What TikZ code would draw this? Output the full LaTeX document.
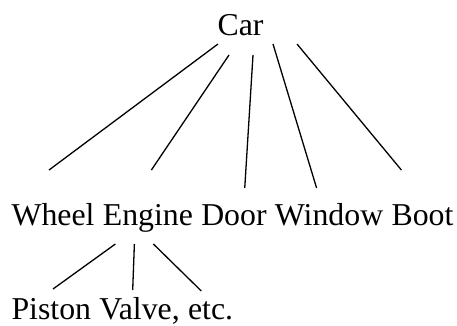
\documentclass[tikz,border=0pt]{standalone}
\usepackage{fontspec}
\setmainfont{Liberation Serif}
\usetikzlibrary{positioning}

\begin{document}
\begin{tikzpicture}[
  x=1pt, y=-1pt,
  partnode/.style={inner sep=0pt, anchor=base, font=\fontsize{31.8}{35}\selectfont},
  branch/.style={draw=black, line width=1.3pt}
]
  \useasboundingbox (0,0) rectangle (457,325);

  % Car
  \node[partnode] (car) at (240.5,35) {Car};

  % Parts
  \node[partnode] (wheel) at (53.0,225.5) {Wheel};
  \node[partnode, base right=7.95pt of wheel] (engine) {Engine};
  \node[partnode, base right=7.95pt of engine] (door) {Door};
  \node[partnode, base right=7.95pt of door] (window) {Window};
  \node[partnode, base right=7.95pt of window] (boot) {Boot};

  % Engine parts
  \node[partnode] (piston) at (51.3,319) {Piston};
  \node[partnode, base right=7.95pt of piston] (valve) {Valve,};
  \node[partnode, base right=7.95pt of valve] (etc) {etc.};

  \begin{scope}[-]
    \draw[branch] ([shift={(-22.5,9)}]car.base) -- ([shift={(-4,-55.5)}]wheel.base);
    \draw[branch] ([shift={(-11.5,20)}]car.base) -- ([shift={(3.5,-55.5)}]engine.base);
    \draw[branch] ([shift={(12.5,20)}]car.base) -- ([shift={(10.8,-37.5)}]door.base);
    \draw[branch] ([shift={(32.5,9)}]car.base) -- ([shift={(-12.5,-37.5)}]window.base);
    \draw[branch] ([shift={(56.5,9)}]car.base) -- ([shift={(-21.1,-55.5)}]boot.base);

    \draw[branch] ([shift={(-32.5,18.5)}]engine.base) -- ([shift={(1.7,-30)}]piston.base);
    \draw[branch] ([shift={(-13.5,18.5)}]engine.base) -- ([shift={(-6.9,-29)}]valve.base);
    \draw[branch] ([shift={(5.5,18.5)}]engine.base) -- ([shift={(-9.3,-28)}]etc.base);
  \end{scope}
\end{tikzpicture}
\end{document}
